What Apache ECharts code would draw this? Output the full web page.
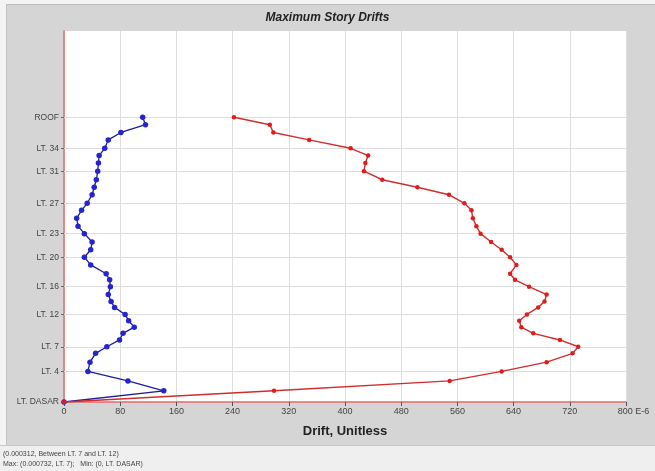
<!DOCTYPE html>
<html>
<head>
<meta charset="utf-8">
<script src="https://cdn.jsdelivr.net/npm/echarts@6/dist/echarts.min.js"></script>
<style>
  html, body { margin: 0; padding: 0; }
  #chart { width: 655px; height: 471px; }
</style>
</head>
<body>
<div id="chart"></div>
<script>
// story elevations (m), from LT. DASAR (index 0) to ROOF (index 37)
var storyElev = [0, 5.1, 9.6, 13.9, 18.1, 22.1, 25.1, 28.2, 31.2, 34.0,
    36.9, 39.8, 43.0, 45.7, 48.8, 52.4, 55.5, 58.3, 62.3, 65.8,
    69.2, 72.7, 76.5, 79.9, 83.5, 87.1, 90.3, 94.2, 97.6, 101.0,
    104.9, 108.6, 112.0, 115.3, 119.1, 122.5, 126.0, 129.4];

// drift values in E-6, blue curve
var driftX = [0, 142, 91, 34, 37, 45, 61, 79, 84, 100,
    92, 87, 72, 67, 63, 66, 65, 60, 38, 29,
    38, 40, 29, 20, 18, 25, 33, 40, 43, 46,
    48, 49, 50, 58, 63, 81, 116, 112];

// drift values in E-6, red curve
var driftY = [0, 299, 549, 623, 687, 724, 732, 706, 668, 651,
    648, 659, 675, 684, 687, 662, 642, 635, 644, 635,
    623, 608, 593, 587, 582, 580, 570, 548, 503, 453,
    427, 429, 433, 408, 349, 298, 293, 242];

// labelled stories on the y axis
var labelNames = ['LT. DASAR', 'LT. 4', 'LT. 7', 'LT. 12', 'LT. 16', 'LT. 20',
    'LT. 23', 'LT. 27', 'LT. 31', 'LT. 34', 'ROOF'];
var labelIdx = [0, 3, 6, 11, 15, 19, 22, 26, 30, 33, 37];

var labelElev = labelIdx.map(function (i) { return storyElev[i]; });

function pairs(vals) {
    var out = [];
    for (let i = 0; i < vals.length; i++) {
        out.push([vals[i], storyElev[i]]);
    }
    return out;
}

var chartDom = document.getElementById('chart');
var myChart = echarts.init(chartDom);
var option;

option = {
    animation: false,
    backgroundColor: '#d5d5d5',
    textStyle: { fontFamily: 'Liberation Sans' },
    graphic: [
        // top and left edge
        { type: 'rect', shape: { x: 0, y: 0, width: 655, height: 4 }, style: { fill: '#f4f4f4' } },
        { type: 'rect', shape: { x: 0, y: 4, width: 655, height: 1 }, style: { fill: '#bdbdbd' } },
        { type: 'rect', shape: { x: 0, y: 0, width: 6, height: 446 }, style: { fill: '#f4f4f4' } },
        { type: 'rect', shape: { x: 6, y: 4, width: 1, height: 442 }, style: { fill: '#c4c4c4' } },
        // status panel at the bottom
        { type: 'rect', shape: { x: 0, y: 445, width: 655, height: 26 }, style: { fill: '#efefef' } },
        { type: 'rect', shape: { x: 0, y: 445, width: 655, height: 1 }, style: { fill: '#c8c8c8' } },
        { type: 'text', left: 3, top: 451, style: { text: '(0.000312, Between LT. 7 and LT. 12)', fill: '#444', font: '7px "Liberation Sans"' } },
        { type: 'text', left: 3, top: 461, style: { text: 'Max: (0.000732, LT. 7);   Min: (0, LT. DASAR)', fill: '#444', font: '7px "Liberation Sans"' } }
    ],
    title: {
        text: 'Maximum Story Drifts',
        left: 'center',
        top: 7,
        textStyle: { fontSize: 12, fontWeight: 'bold', fontStyle: 'italic', color: '#222' }
    },
    grid: {
        left: 64, right: 29, top: 31, bottom: 69,
        show: true, backgroundColor: '#ffffff', borderWidth: 0
    },
    xAxis: {
        type: 'value',
        min: 0, max: 800, interval: 80,
        name: 'Drift, Unitless',
        nameLocation: 'middle',
        nameGap: 23,
        nameTextStyle: { fontSize: 13, fontWeight: 'bold', color: '#222' },
        axisLine: { show: true, lineStyle: { color: '#e46a6a', width: 1.5 } },
        axisTick: { show: true, length: 4, lineStyle: { color: '#555' } },
        axisLabel: {
            fontSize: 9, color: '#444', margin: 5,
            formatter: function (v) {
                return v === 800 ? '{last|800 E-6}' : String(v);
            },
            rich: { last: { fontSize: 9, color: '#444', padding: [0, 0, 0, 15] } }
        },
        splitLine: { show: true, lineStyle: { color: '#dedede', width: 1 } }
    },
    yAxis: {
        type: 'value',
        min: 0, max: 168.6,
        axisLine: { show: true, lineStyle: { color: '#e46a6a', width: 1.5 } },
        axisTick: { show: true, length: 3, customValues: labelElev, lineStyle: { color: '#666' } },
        axisLabel: {
            fontSize: 8.5, color: '#444', margin: 5,
            customValues: labelElev,
            formatter: function (v) {
                for (let i = 0; i < labelElev.length; i++) {
                    if (Math.abs(labelElev[i] - v) < 0.01) return labelNames[i];
                }
                return '';
            }
        },
        splitLine: { show: false }
    },
    series: [
        {
            // horizontal grid lines at the labelled stories
            type: 'line',
            data: [[0, 0]],
            showSymbol: false,
            lineStyle: { opacity: 0 },
            z: 1,
            silent: true,
            markLine: {
                silent: true,
                z: 1,
                symbol: 'none',
                label: { show: false },
                lineStyle: { color: '#dedede', type: 'solid', width: 1 },
                data: labelElev.slice(1).map(function (v) { return { yAxis: v }; })
            }
        },
        {
            name: 'Drift X',
            type: 'line',
            data: pairs(driftX),
            symbol: 'circle',
            symbolSize: 5.5,
            itemStyle: { color: '#2424d0' },
            lineStyle: { color: '#1c1c9c', width: 1.3 },
            z: 3
        },
        {
            name: 'Drift Y',
            type: 'line',
            data: pairs(driftY),
            symbol: 'circle',
            symbolSize: 4.5,
            itemStyle: { color: '#e01c1c' },
            lineStyle: { color: '#cf2e2e', width: 1.4 },
            z: 4
        }
    ]
};

option && myChart.setOption(option);
</script>
</body>
</html>
